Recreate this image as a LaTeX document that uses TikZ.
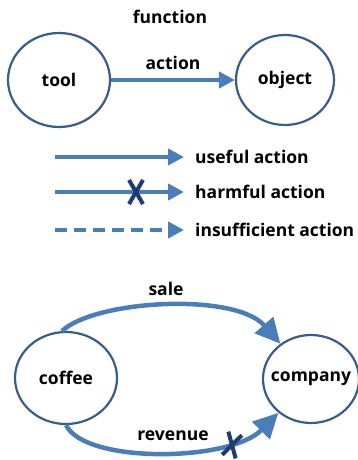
\documentclass[tikz,border=0pt]{standalone}
\usepackage{fontspec}
\setmainfont{Open Sans}
\usetikzlibrary{shapes.geometric,arrows.meta}
\definecolor{flow}{HTML}{4A7EBB}
\definecolor{rim}{HTML}{385D8A}
\definecolor{cross}{HTML}{1F3C6E}
\tikzset{
  lbl/.style={font=\bfseries\fontsize{17.5}{19}\selectfont, inner sep=0pt},
  actor/.style={ellipse, draw=rim, line width=2.2pt, fill=white, inner sep=0pt},
  flowline/.style={draw=flow, line width=4.5pt},
  headsmall/.style={-{Triangle[length=16pt,width=16pt]}},
  headbig/.style={-{Triangle[length=25pt,width=24pt]}},
  xmark/.style={draw=cross, line width=4pt}
}
\begin{document}
\begin{tikzpicture}[x=1pt,y=-1pt]
\useasboundingbox (0,0) rectangle (358,460);

% function model
\node[lbl] (fn) at (170,17) {function};
\node[actor, minimum width=102pt, minimum height=94pt] (tool) at (59,80) {};
\node[lbl] at (tool.center) {tool};
\node[actor, minimum width=98pt, minimum height=90pt] (obj) at (285,80) {};
\node[lbl] at (obj.center) {object};
\draw[flowline, headsmall] (tool.east) -- (obj.west)
  node[lbl, midway, above=8pt] (act) {action};

% legend
\coordinate (u1) at (55,157); \coordinate (u2) at (184,157);
\coordinate (h1) at (55,192); \coordinate (h2) at (184,192);
\coordinate (d1) at (55,230); \coordinate (d2) at (184,230);
\draw[flowline, headsmall] (u1) -- (u2);
\node[lbl, anchor=west] (useful) at (195,157) {useful action};
\draw[flowline, headsmall] (h1) -- (h2);
\coordinate (hx) at (136,192);
\draw[xmark] ([shift={(-7,-12)}]hx) -- ([shift={(7,12)}]hx)
             ([shift={(7,-12)}]hx) -- ([shift={(-7,12)}]hx);
\node[lbl, anchor=west] (harmful) at (195,192) {harmful action};
\draw[flowline, headsmall, dash pattern=on 12pt off 7pt] (d1) -- (d2);
\node[lbl, anchor=west] (insuff) at (195,230) {insufficient action};

% coffee example
\node[actor, minimum width=102pt, minimum height=92pt] (coffee) at (66,378) {};
\node[lbl] at (coffee.center) {coffee};
\node[actor, minimum width=96pt, minimum height=88pt] (company) at (311,379) {};
\node[lbl] at (company.center) {company};
\draw[flowline, headbig] (coffee.95) .. controls (95,300) and (235,292) .. (company.131);
\node[lbl] (sale) at (166,289) {sale};
\draw[flowline, headbig] (coffee.south) .. controls (85,464) and (230,462) .. (company.226);
\node[lbl] (rev) at (173,436) {revenue};
\begin{scope}[shift={(232,445)}, rotate=-15]
\draw[xmark] (-7,-12) -- (7,12) (7,-12) -- (-7,12);
\end{scope}
\end{tikzpicture}
\end{document}
